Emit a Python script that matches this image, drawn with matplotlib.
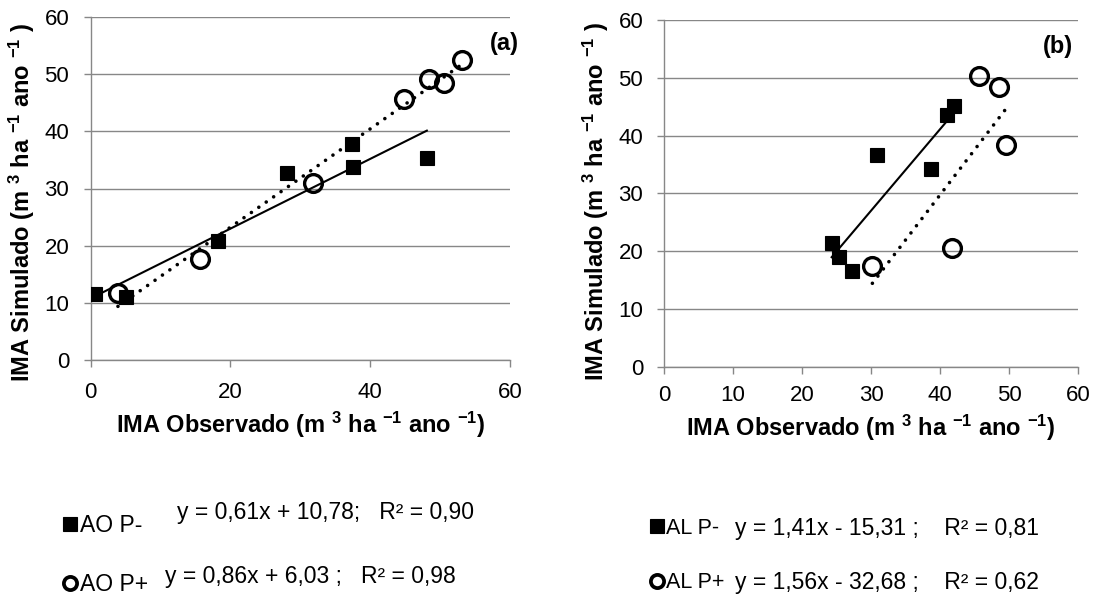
import matplotlib
matplotlib.use('Agg')
import matplotlib.pyplot as plt
from matplotlib.lines import Line2D
import numpy as np

plt.rcParams['font.family'] = ['Liberation Sans', 'DejaVu Sans']
plt.rcParams['mathtext.fontset'] = 'custom'
plt.rcParams['mathtext.rm'] = 'Liberation Sans'
plt.rcParams['mathtext.bf'] = 'Liberation Sans:bold'
plt.rcParams['mathtext.it'] = 'Liberation Sans:italic'

# ---------------- data ----------------
# Panel (a)
a_neg_x = [0.6, 5.0, 18.2, 28.1, 37.4, 37.6, 48.1]
a_neg_y = [11.5, 11.0, 20.9, 32.7, 37.8, 33.8, 35.3]
a_pos_x = [3.9, 15.6, 31.8, 44.9, 48.4, 50.5, 53.2]
a_pos_y = [11.7, 17.6, 31.0, 45.6, 49.1, 48.5, 52.4]
a_slopes = [0.61, 0.86]
a_intercepts = [10.78, 6.03]
a_labels = ['AO P-', 'AO P+']
a_eqs = ['y = 0,61x + 10,78;   R² = 0,90', 'y = 0,86x + 6,03 ;   R² = 0,98']

# Panel (b)
b_neg_x = [24.3, 25.3, 27.3, 30.8, 38.7, 41.0, 42.1]
b_neg_y = [21.4, 19.0, 16.5, 36.7, 34.3, 43.6, 45.2]
b_pos_x = [30.2, 41.7, 45.6, 48.6, 49.5]
b_pos_y = [17.5, 20.5, 50.3, 48.4, 38.3]
b_slopes = [1.41, 1.56]
b_intercepts = [-15.31, -32.68]
b_labels = ['AL P-', 'AL P+']
b_eqs = ['y = 1,41x - 15,31 ;    R² = 0,81', 'y = 1,56x - 32,68 ;    R² = 0,62']

a_xticks = [0, 20, 40, 60]
b_xticks = [0, 10, 20, 30, 40, 50, 60]
yticks = [0, 10, 20, 30, 40, 50, 60]

xlabel = r'IMA Observado (m $^{\mathbf{3}}$ ha $^{\mathbf{-1}}$ ano $^{\mathbf{-1}}$)'
ylabel = r'IMA Simulado (m $^{\mathbf{3}}$ ha $^{\mathbf{-1}}$ ano $^{\mathbf{-1}}$ )'

GRID = '#878787'
W, H = 1099, 596
fig = plt.figure(figsize=(W / 100, H / 100), dpi=100)


def fx(px):
    return px / W


def fy(py):
    return 1 - py / H


def make_axes(l, r, t, b):
    return fig.add_axes([fx(l), fy(b), fx(r) - fx(l), fy(t) - fy(b)])


ax_a = make_axes(90.7, 510, 17, 360)
ax_b = make_axes(664, 1078, 20, 366.7)

sq_kw = dict(marker='s', ms=10.4, mfc='black', mec='black', mew=0.8, ls='none', zorder=3)
ci_kw = dict(marker='o', ms=12.8, mfc='none', mec='black', mew=2.4, ls='none', zorder=3)
solid_kw = dict(color='black', lw=1.5, ls='-', zorder=4)
dot_kw = dict(color='black', lw=2.6, ls=(0, (0.01, 2.5)), dash_capstyle='round', zorder=4)


def panel(ax, nx, ny, px, py, slopes, intercepts, xticks, tag, tagx,
          xpad, ypad, xlab_y, ylab_x, ylab_y):
    ax.plot(nx, ny, **sq_kw)
    ax.plot(px, py, **ci_kw)
    for xs, kw, m, c in [(nx, solid_kw, slopes[0], intercepts[0]),
                         (px, dot_kw, slopes[1], intercepts[1])]:
        xr = np.array([min(xs), max(xs)])
        ax.plot(xr, m * xr + c, **kw)
    ax.set_xlim(0, 60)
    ax.set_ylim(0, 60)
    ax.set_xticks(xticks)
    ax.set_yticks(yticks)
    ax.grid(axis='y', color=GRID, lw=1.0, zorder=0)
    ax.set_axisbelow(True)
    for s in ['top', 'right']:
        ax.spines[s].set_visible(False)
    for s in ['left', 'bottom']:
        ax.spines[s].set_color(GRID)
        ax.spines[s].set_linewidth(1.0)
    ax.tick_params(axis='both', length=5, width=1.0, color=GRID,
                   labelsize=16, labelcolor='black')
    ax.tick_params(axis='x', pad=xpad)
    ax.tick_params(axis='y', pad=ypad)
    ax.set_xlabel(xlabel, fontsize=17, fontweight='bold', va='center')
    ax.xaxis.set_label_coords(0.5, xlab_y)
    ax.set_ylabel(ylabel, fontsize=17, fontweight='bold', va='center')
    ax.yaxis.set_label_coords(ylab_x, ylab_y)
    ax.text(tagx, 0.924, tag, transform=ax.transAxes, ha='right', va='center',
            fontsize=17, fontweight='bold')


panel(ax_a, a_neg_x, a_neg_y, a_pos_x, a_pos_y, a_slopes, a_intercepts,
      a_xticks, '(a)', 1.021, 10.5, 10.5, -0.19, -0.165, 0.458)
panel(ax_b, b_neg_x, b_neg_y, b_pos_x, b_pos_y, b_slopes, b_intercepts,
      b_xticks, '(b)', 0.987, 8.0, 10.0, -0.177, -0.164, 0.475)


def leg(labels, left_px, center_px, spacing, size):
    h = [Line2D([], [], marker='s', ms=10.4, mfc='black', mec='black', mew=0.8, ls='none'),
         Line2D([], [], marker='o', ms=9.5, mfc='none', mec='black', mew=2.7, ls='none')]
    fig.legend(h, labels, loc='center left',
               bbox_to_anchor=(fx(left_px), fy(center_px)),
               bbox_transform=fig.transFigure, frameon=False, fontsize=size,
               handlelength=0.7, handletextpad=0.1, borderpad=0,
               borderaxespad=0, labelspacing=spacing)


leg(a_labels, 62, 555, 1.54, 16.5)
leg(b_labels, 649, 555.5, 1.55, 15.5)

EQ = 16.5
fig.text(fx(176.7), fy(513), a_eqs[0], ha='left', va='center', fontsize=EQ)
fig.text(fx(165), fy(577), a_eqs[1], ha='left', va='center', fontsize=EQ)
fig.text(fx(735), fy(529), b_eqs[0], ha='left', va='center', fontsize=EQ)
fig.text(fx(735), fy(582), b_eqs[1], ha='left', va='center', fontsize=EQ)

fig.savefig('out.png', dpi=100)
